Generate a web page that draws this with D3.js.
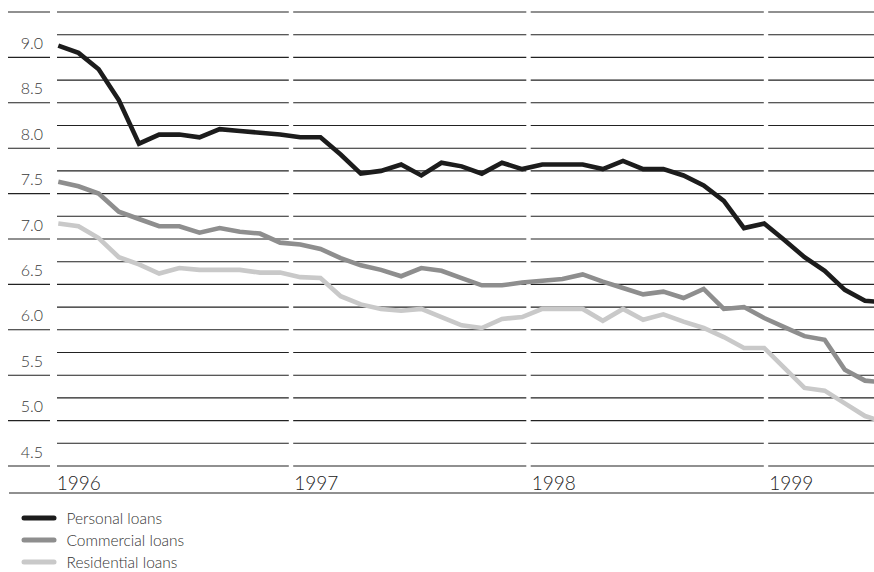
<!DOCTYPE html>
<html>
<head>
<meta charset="utf-8">
<script src="https://cdn.jsdelivr.net/npm/d3@7"></script>
<style>
  html, body { margin: 0; padding: 0; background: #fff; }
  svg { display: block; }
  text { font-family: "Lato", "Open Sans", "DejaVu Sans", sans-serif; font-weight: 300; }
</style>
</head>
<body>
<svg id="chart" width="874" height="572"></svg>
<script>
// Monthly interest rates (%), January 1996 onwards
const months = d3.range(42);
const personal = [9.13, 9.05, 8.87, 8.53, 8.05, 8.15, 8.15, 8.12, 8.21, 8.19, 8.17, 8.15,
                  8.12, 8.12, 7.93, 7.72, 7.75, 7.82, 7.70, 7.84, 7.80, 7.72, 7.84, 7.77,
                  7.82, 7.82, 7.82, 7.77, 7.86, 7.77, 7.77, 7.70, 7.59, 7.42, 7.12, 7.17,
                  6.99, 6.80, 6.65, 6.44, 6.32, 6.30];
const commercial = [7.63, 7.58, 7.50, 7.30, 7.22, 7.14, 7.14, 7.07, 7.12, 7.08, 7.06, 6.96,
                    6.94, 6.89, 6.79, 6.71, 6.66, 6.59, 6.68, 6.65, 6.57, 6.49, 6.49, 6.52,
                    6.54, 6.56, 6.61, 6.53, 6.46, 6.39, 6.42, 6.35, 6.45, 6.23, 6.25, 6.13,
                    6.03, 5.93, 5.89, 5.56, 5.44, 5.42];
const residential = [7.17, 7.14, 7.01, 6.80, 6.72, 6.62, 6.68, 6.66, 6.66, 6.66, 6.63, 6.63,
                     6.58, 6.57, 6.37, 6.28, 6.23, 6.21, 6.23, 6.14, 6.05, 6.02, 6.12, 6.14,
                     6.23, 6.23, 6.23, 6.10, 6.23, 6.11, 6.17, 6.09, 6.02, 5.92, 5.80, 5.80,
                     5.58, 5.36, 5.33, 5.19, 5.05, 4.98];
const seriesNames = ["Personal loans", "Commercial loans", "Residential loans"];
const seriesColors = ["#1c1c1c", "#8e8e8e", "#c9c9c9"];
const years = [1996, 1997, 1998, 1999];
const yTickLabels = ["9.0", "8.5", "8.0", "7.5", "7.0", "6.5", "6.0", "5.5", "5.0", "4.5"];

const svg = d3.select("#chart");
const W = 874;

const x = d3.scaleLinear().domain([0, 40]).range([58.3, 865]);
const y = d3.scaleLinear().domain([4.5, 9.5]).range([466, 12]);
const yearX = d3.scaleLinear().domain([1996, 1999]).range([53.5, 766]);

// Horizontal rules every quarter point, broken at each year boundary
const gridVals = d3.range(0, 21).map(i => 4.5 + i * 0.25);
const starts = [57].concat(years.slice(1).map(yr => yearX(yr) + 2.2));
const ends = years.slice(1).map(yr => yearX(yr) - 2.2).concat([W]);

const gridPath = d3.path();
gridVals.forEach((v, k) => {
  const yy = y(v);
  starts.forEach((s, i) => { gridPath.moveTo(s, yy); gridPath.lineTo(ends[i], yy); });
  // label column rule at each half point
  if (k % 2 === 0) { gridPath.moveTo(8, yy); gridPath.lineTo(50, yy); }
});
svg.append("path").attr("d", gridPath.toString())
  .attr("fill", "none").attr("stroke", "#222").attr("stroke-width", 1.1);

// Value labels sit just above their rule
svg.append("g").selectAll("text").data(yTickLabels).join("text")
  .attr("x", 43).attr("y", d => y(+d) - 8.5)
  .attr("text-anchor", "end")
  .attr("font-size", 16).attr("fill", "#3a3a3a")
  .text(d => d);

// Year labels
svg.append("g").selectAll("text").data(years).join("text")
  .attr("x", d => yearX(d) + 3.2).attr("y", 489.5)
  .attr("font-size", 19).attr("fill", "#222")
  .text(d => d);

svg.append("path").attr("d", `M9,493H${W}`)
  .attr("fill", "none").attr("stroke", "#222").attr("stroke-width", 1.2);

// Series lines, kept inside the chart's right edge
const defs = svg.append("defs");
defs.append("clipPath").attr("id", "plotclip")
  .append("rect").attr("x", 0).attr("y", 0).attr("width", W).attr("height", 480);

const line = d3.line().x((d, i) => x(months[i])).y(d => y(d));
const plot = svg.append("g").attr("clip-path", "url(#plotclip)");
// lightest first so the darker lines sit on top
[[residential, 2], [commercial, 1], [personal, 0]].forEach(([s, k]) => {
  plot.append("path").datum(s)
    .attr("fill", "none")
    .attr("stroke", seriesColors[k])
    .attr("stroke-width", 4.6)
    .attr("stroke-linejoin", "miter")
    .attr("d", line);
});

// Legend
const lg = svg.append("g");
seriesNames.forEach((n, i) => {
  const cy = 518 + i * 22;
  lg.append("path").attr("d", `M24,${cy}H54`)
    .attr("stroke", seriesColors[i]).attr("stroke-width", 5).attr("stroke-linecap", "round");
  lg.append("text").attr("x", 66.5).attr("y", cy + 5.5)
    .attr("font-size", 15.5).attr("fill", "#333").text(n);
});
</script>
</body>
</html>
